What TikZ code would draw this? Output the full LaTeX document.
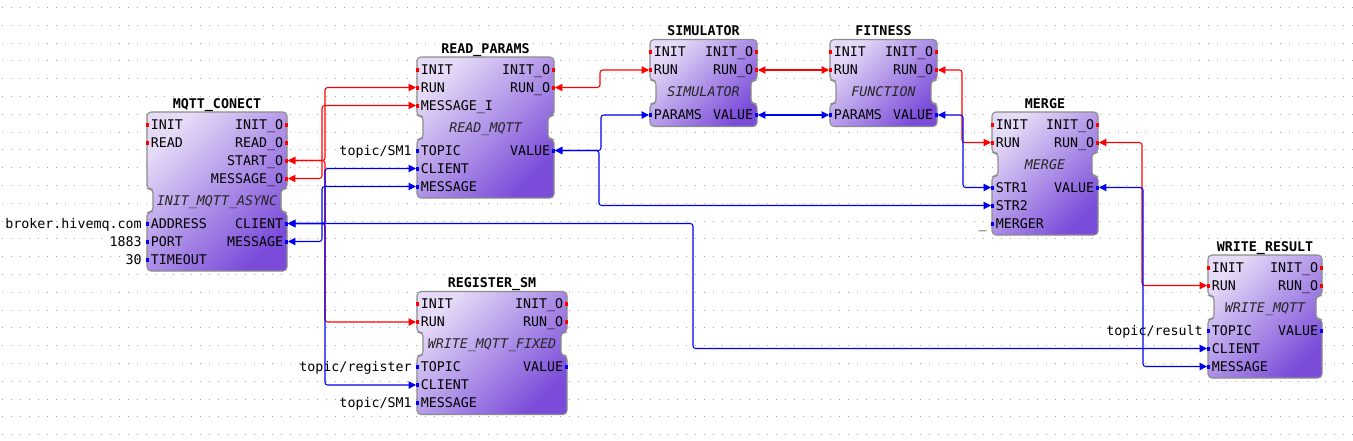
\documentclass[tikz,border=0pt]{standalone}
\usepackage{fontspec}
\setmainfont{DejaVu Sans Mono}
\usepackage{tikz}
\usetikzlibrary{arrows.meta,positioning}
\definecolor{FbLight}{HTML}{E6DBF7}
\definecolor{FbDark}{HTML}{7A4CD9}
\definecolor{FbBorder}{HTML}{8C8C8C}
\definecolor{EvRed}{HTML}{FF0000}
\definecolor{DtBlue}{HTML}{0000F0}
\definecolor{GridDot}{HTML}{A8A8A8}
\newcommand{\fbfont}{\fontsize{10}{12}\selectfont}

% block body: name, x, top, width, event rows, data rows, title, type
\newcommand{\fblock}[8]{%
  \pgfmathsetmacro{\fbR}{#2+#4}
  \pgfmathsetmacro{\fbA}{#3+18*#5+5}
  \pgfmathsetmacro{\fbB}{\fbA+23}
  \pgfmathsetmacro{\fbC}{\fbB+18*#6+5}
  \path[fbbody] (#2,#3) -- (\fbR,#3) -- (\fbR,\fbA) -- (\fbR-6,\fbA) -- (\fbR-6,\fbB) -- (\fbR,\fbB) -- (\fbR,\fbC) -- (#2,\fbC) -- (#2,\fbB) -- (#2+6,\fbB) -- (#2+6,\fbA) -- (#2,\fbA) -- cycle;
  \node[fbtitle] (#1) at ({#2+#4/2},#3-8.5) {#7};
  \node[fbtype] (#1-type) at ({#2+#4/2},\fbA+11.5) {#8};
}
% pins: block, edge x, first row, pin style, name/label list
\newcommand{\inpins}[5]{%
  \foreach \pn/\pl [count=\k from 0] in {#5} {
    \node[pinlbl, anchor=west] (#1-\pn-txt) at (#2+3.5, #3+18*\k) {\pl};
    \fill[#4] (#2-1, #3+18*\k-2) rectangle ++(3,4);
    \coordinate (#1-\pn) at (#2-1, #3+18*\k);
  }}
\newcommand{\outpins}[5]{%
  \foreach \pn/\pl [count=\k from 0] in {#5} {
    \node[pinlbl, anchor=east] (#1-\pn-txt) at (#2-3.5, #3+18*\k) {\pl};
    \fill[#4] (#2+1, #3+18*\k-2) rectangle ++(-3,4);
    \coordinate (#1-\pn) at (#2+1, #3+18*\k);
  }}

\tikzset{
  pintip/.tip={Triangle[length=5.5pt,width=5.5pt]},
  fbbody/.style={draw=FbBorder, line width=0.8pt, rounded corners=3pt, top color=FbLight, bottom color=FbDark, shading angle=45},
  fbtitle/.style={inner sep=0pt, text height=7.3pt, text depth=0pt, font=\bfseries\fbfont},
  fbtype/.style={inner sep=0pt, text height=7.3pt, text depth=0pt, font=\itshape\fbfont, text=black!85},
  pinlbl/.style={inner sep=0pt, text height=7.3pt, text depth=0pt, font=\fbfont},
  constlbl/.style={inner sep=0pt, text height=7.3pt, text depth=0pt, font=\fbfont},
  evpin/.style={fill=EvRed},
  dtpin/.style={fill=DtBlue},
  evline/.style={EvRed, line width=0.8pt, rounded corners=2pt, pintip-pintip},
  dtline/.style={DtBlue, line width=0.8pt, rounded corners=2pt, pintip-pintip},
  griddot/.style={GridDot, line width=0.75pt, dash pattern=on 0.75pt off 6pt, dash phase=5pt}
}

\begin{document}
\begin{tikzpicture}[x=0.75pt,y=-0.75pt]
  \useasboundingbox (0,0) rectangle (1353,440);
  \fill[white] (0,0) rectangle (1353,440);
  \foreach \gy in {7.5,25.3,...,440} \draw[griddot] (0,\gy) -- (1353,\gy);

  % function blocks
  \fblock{mq}{147}{112}{140}{4}{3}{MQTT\_CONECT}{INIT\_MQTT\_ASYNC}
  \inpins{mq}{147}{124.5}{evpin}{init/INIT, read/READ}
  \outpins{mq}{287}{124.5}{evpin}{inito/INIT\_O, reado/READ\_O, start/START\_O, msgo/MESSAGE\_O}
  \inpins{mq}{147}{223.5}{dtpin}{address/ADDRESS, port/PORT, timeout/TIMEOUT}
  \outpins{mq}{287}{223.5}{dtpin}{client/CLIENT, msg/MESSAGE}

  \fblock{rp}{417}{57}{137}{3}{3}{READ\_PARAMS}{READ\_MQTT}
  \inpins{rp}{417}{69.5}{evpin}{init/INIT, run/RUN, msgi/MESSAGE\_I}
  \outpins{rp}{554}{69.5}{evpin}{inito/INIT\_O, runo/RUN\_O}
  \inpins{rp}{417}{150.5}{dtpin}{topic/TOPIC, client/CLIENT, msg/MESSAGE}
  \outpins{rp}{554}{150.5}{dtpin}{value/VALUE}

  \fblock{sim}{650}{39.5}{107}{2}{1}{SIMULATOR}{SIMULATOR}
  \inpins{sim}{650}{52}{evpin}{init/INIT, run/RUN}
  \outpins{sim}{757}{52}{evpin}{inito/INIT\_O, runo/RUN\_O}
  \inpins{sim}{650}{115}{dtpin}{params/PARAMS}
  \outpins{sim}{757}{115}{dtpin}{value/VALUE}

  \fblock{fit}{830}{39.5}{107}{2}{1}{FITNESS}{FUNCTION}
  \inpins{fit}{830}{52}{evpin}{init/INIT, run/RUN}
  \outpins{fit}{937}{52}{evpin}{inito/INIT\_O, runo/RUN\_O}
  \inpins{fit}{830}{115}{dtpin}{params/PARAMS}
  \outpins{fit}{937}{115}{dtpin}{value/VALUE}

  \fblock{mg}{992}{112}{106}{2}{3}{MERGE}{MERGE}
  \inpins{mg}{992}{124.5}{evpin}{init/INIT, run/RUN}
  \outpins{mg}{1098}{124.5}{evpin}{inito/INIT\_O, runo/RUN\_O}
  \inpins{mg}{992}{187.5}{dtpin}{str1/STR1, str2/STR2, merger/MERGER}
  \outpins{mg}{1098}{187.5}{dtpin}{value/VALUE}

  \fblock{wr}{1208}{255}{114}{2}{3}{WRITE\_RESULT}{WRITE\_MQTT}
  \inpins{wr}{1208}{267.5}{evpin}{init/INIT, run/RUN}
  \outpins{wr}{1322}{267.5}{evpin}{inito/INIT\_O, runo/RUN\_O}
  \inpins{wr}{1208}{330.5}{dtpin}{topic/TOPIC, client/CLIENT, msg/MESSAGE}
  \outpins{wr}{1322}{330.5}{dtpin}{value/VALUE}

  \fblock{rs}{417}{291.5}{150}{2}{3}{REGISTER\_SM}{WRITE\_MQTT\_FIXED}
  \inpins{rs}{417}{304}{evpin}{init/INIT, run/RUN}
  \outpins{rs}{567}{304}{evpin}{inito/INIT\_O, runo/RUN\_O}
  \inpins{rs}{417}{367}{dtpin}{topic/TOPIC, client/CLIENT, msg/MESSAGE}
  \outpins{rs}{567}{367}{dtpin}{value/VALUE}

  % constant inputs
  \node[constlbl, left=3pt of mq-address] (mq-address-val) {broker.hivemq.com};
  \node[constlbl, left=3pt of mq-port] (mq-port-val) {1883};
  \node[constlbl, left=3pt of mq-timeout] (mq-timeout-val) {30};
  \node[constlbl, left=3pt of rp-topic] (rp-topic-val) {topic/SM1};
  \node[constlbl, left=3pt of rs-topic] (rs-topic-val) {topic/register};
  \node[constlbl, left=3pt of rs-msg] (rs-msg-val) {topic/SM1};
  \node[constlbl, left=3pt of mg-merger] (mg-merger-val) {\_};
  \node[constlbl, left=3pt of wr-topic] (wr-topic-val) {topic/result};

  % event connections
  \draw[evline] (mq-start) -- ++(37,0) |- (rp-run);
  \draw[evline] (mq-start) -- ++(37,0) |- (rs-run);
  \draw[evline] (mq-msgo) -- ++(34,0) |- (rp-msgi);
  \draw[evline] (rp-runo) -- ++(45,0) |- (sim-run);
  \draw[evline] (sim-runo) -- (fit-run);
  \draw[evline] (fit-runo) -- ++(24,0) |- (mg-run);
  \draw[evline] (mg-runo) -- ++(43,0) |- (wr-run);

  % data connections
  \draw[dtline] (mq-client) -- ++(37,0) |- (rp-client);
  \draw[dtline] (mq-client) -- ++(37,0) |- (rs-client);
  \draw[dtline] (mq-client) -- ++(405,0) |- (wr-client);
  \draw[dtline] (mq-msg) -- ++(34,0) |- (rp-msg);
  \draw[dtline] (rp-value) -- ++(46,0) |- (sim-params);
  \draw[dtline] (rp-value) -- ++(44,0) |- (mg-str2);
  \draw[dtline] (sim-value) -- (fit-params);
  \draw[dtline] (fit-value) -- ++(25,0) |- (mg-str1);
  \draw[dtline] (mg-value) -- ++(44,0) |- (wr-msg);
\end{tikzpicture}
\end{document}
